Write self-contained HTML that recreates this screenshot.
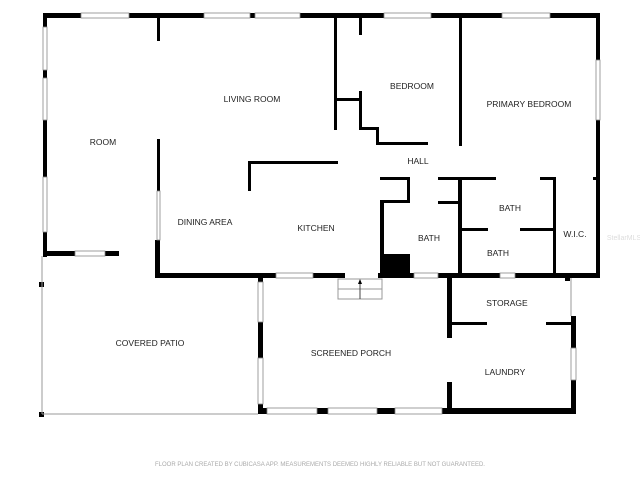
<!DOCTYPE html>
<html><head><meta charset="utf-8"><style>
html,body{margin:0;padding:0;background:#fff}
svg{display:block}
text{font-family:"Liberation Sans",sans-serif;font-size:8.5px;fill:#222;text-anchor:middle}
.w{fill:#fff;stroke:#888;stroke-width:0.8}
</style></head><body>
<svg width="640" height="480" viewBox="0 0 640 480">
<g fill="#000">
<!-- outer top wall -->
<rect x="43" y="13" width="557" height="5"/>
<!-- room left wall -->
<rect x="43" y="13" width="4" height="244"/>
<!-- room bottom -->
<rect x="43" y="251" width="76" height="5"/>
<!-- room/living divider -->
<rect x="157" y="13" width="3" height="28"/>
<rect x="157" y="139" width="3" height="52"/>
<rect x="155" y="240" width="5" height="38"/>
<!-- building bottom wall -->
<rect x="155" y="273" width="190" height="5"/>
<rect x="378" y="273" width="222" height="5"/>
<!-- right wall -->
<rect x="596" y="13" width="4" height="265"/>
<!-- kitchen L -->
<rect x="248" y="161" width="90" height="3"/>
<rect x="248" y="161" width="3" height="30"/>
<!-- bedroom walls -->
<rect x="334" y="13" width="3" height="117"/>
<rect x="359" y="13" width="3" height="22"/>
<rect x="359" y="91" width="3" height="39"/>
<rect x="334" y="98" width="27" height="3"/>
<rect x="359" y="127" width="20" height="3"/>
<rect x="376" y="127" width="3" height="18"/>
<rect x="376" y="142" width="52" height="3"/>
<rect x="459" y="13" width="3" height="133"/>
<!-- hall bottom walls -->
<rect x="380" y="177" width="30" height="3"/>
<rect x="438" y="177" width="58" height="3"/>
<rect x="540" y="177" width="16" height="3"/>
<rect x="593" y="177" width="7" height="3"/>
<!-- bath1 -->
<rect x="380" y="200" width="4" height="77"/>
<rect x="407" y="177" width="3" height="26"/>
<rect x="380" y="200" width="30" height="3"/>
<rect x="380" y="254" width="30" height="23"/>
<!-- bath2 -->
<rect x="458" y="177" width="4" height="100"/>
<rect x="438" y="201" width="22" height="3"/>
<rect x="460" y="228" width="28" height="3"/>
<rect x="520" y="228" width="33" height="3"/>
<rect x="553" y="177" width="3" height="100"/>
<!-- porch -->
<rect x="258" y="278" width="5" height="136"/>
<rect x="258" y="408" width="318" height="6"/>
<rect x="447" y="277" width="5" height="61"/>
<rect x="447" y="382" width="5" height="32"/>
<rect x="452" y="322" width="35" height="3"/>
<rect x="546" y="322" width="30" height="3"/>
<rect x="571" y="316" width="5" height="98"/>
<rect x="565" y="276" width="5" height="5"/>
<rect x="39" y="282" width="5" height="5"/>
<rect x="39" y="412" width="5" height="5"/>
</g>
<!-- windows -->
<g class="w">
<rect x="81" y="13" width="48" height="5"/>
<rect x="204" y="13" width="46" height="5"/>
<rect x="255" y="13" width="45" height="5"/>
<rect x="384" y="13" width="47" height="5"/>
<rect x="502" y="13" width="48" height="5"/>
<rect x="43" y="27" width="4" height="43"/>
<rect x="43" y="78" width="4" height="42"/>
<rect x="43" y="177" width="4" height="55"/>
<rect x="75" y="251" width="30" height="5"/>
<rect x="157" y="191" width="3" height="49"/>
<rect x="276" y="273" width="37" height="5"/>
<rect x="414" y="273" width="24" height="5"/>
<rect x="500" y="273" width="15" height="5"/>
<rect x="596" y="60" width="4" height="60"/>
<rect x="258" y="282" width="5" height="40"/>
<rect x="258" y="358" width="5" height="46"/>
<rect x="267" y="408" width="50" height="6"/>
<rect x="328" y="408" width="49" height="6"/>
<rect x="395" y="408" width="47" height="6"/>
<rect x="571" y="348" width="5" height="32"/>
</g>
<!-- thin lines -->
<g stroke="#999" stroke-width="1" fill="none">
<line x1="42" y1="256" x2="42" y2="414"/>
<line x1="42" y1="414" x2="258" y2="414"/>
<line x1="571" y1="278" x2="571" y2="316"/>
<rect x="338" y="279" width="44" height="20"/>
<line x1="338" y1="289" x2="382" y2="289"/>
<line x1="360" y1="281" x2="360" y2="299" stroke="#444"/>
</g>
<polygon points="360,279 358,284 362,284" fill="#000"/>
<text x="252" y="102">LIVING ROOM</text>
<text x="103" y="145">ROOM</text>
<text x="205" y="225">DINING AREA</text>
<text x="316" y="231">KITCHEN</text>
<text x="412" y="89">BEDROOM</text>
<text x="529" y="107">PRIMARY BEDROOM</text>
<text x="418" y="164">HALL</text>
<text x="510" y="211">BATH</text>
<text x="429" y="241">BATH</text>
<text x="498" y="256">BATH</text>
<text x="575" y="237">W.I.C.</text>
<text x="507" y="306">STORAGE</text>
<text x="505" y="375">LAUNDRY</text>
<text x="351" y="356">SCREENED PORCH</text>
<text x="150" y="346">COVERED PATIO</text>
<text x="320" y="466" style="font-size:6px;fill:#aaa">FLOOR PLAN CREATED BY CUBICASA APP. MEASUREMENTS DEEMED HIGHLY RELIABLE BUT NOT GUARANTEED.</text>
<text x="624" y="240" style="font-size:7px;fill:#ddd">StellarMLS</text>
</svg>
</body></html>
